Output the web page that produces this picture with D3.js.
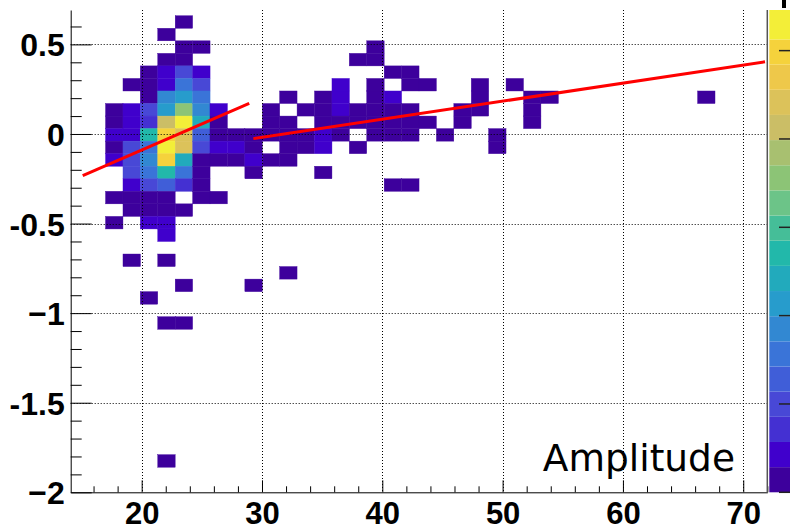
<!DOCTYPE html>
<html><head><meta charset="utf-8">
<script src="https://cdn.jsdelivr.net/npm/d3@7"></script>
<style>html,body{margin:0;padding:0;background:#fff}svg{display:block}</style>
</head><body>
<svg id="chart" width="790" height="530"></svg>
<script>
// ---------- data ----------
const xBinWidth = 1.4475;   // amplitude bin width
const yBinWidth = 0.07;     // y bin width
// one entry per filled bin: bin centre in amplitude, bin centre in y, bin content (z)
const binAmp = [
  23.51,
  22.06,
  23.51, 24.96, 39.43,
  22.06, 23.51, 37.98, 39.43,
  20.61, 22.06, 23.51, 24.96, 40.88, 42.33,
  19.17, 20.61, 22.06, 23.51, 24.96, 36.54, 39.43, 42.33, 43.77, 48.12, 51.01,
  20.61, 22.06, 23.51, 24.96, 32.19, 35.09, 36.54, 39.43, 40.88, 48.12, 52.46, 53.91, 66.93,
  17.72, 19.17, 20.61, 22.06, 23.51, 24.96, 26.40, 30.75, 33.64, 35.09, 36.54, 37.98, 39.43, 40.88, 42.33, 46.67, 48.12, 52.46,
  17.72, 19.17, 20.61, 22.06, 23.51, 24.96, 26.40, 30.75, 32.19, 35.09, 36.54, 37.98, 39.43, 40.88, 42.33, 43.77, 46.67, 52.46,
  17.72, 19.17, 20.61, 22.06, 23.51, 24.96, 26.40, 27.85, 29.30, 30.75, 32.19, 33.64, 35.09, 36.54, 39.43, 40.88, 42.33, 45.22, 49.56,
  17.72, 19.17, 20.61, 22.06, 23.51, 24.96, 26.40, 27.85, 29.30, 32.19, 33.64, 35.09, 37.98, 49.56,
  17.72, 19.17, 20.61, 22.06, 23.51, 24.96, 26.40, 27.85, 29.30, 30.75, 32.19,
  19.17, 20.61, 22.06, 23.51, 24.96, 29.30, 35.09,
  19.17, 20.61, 22.06, 23.51, 24.96, 40.88, 42.33,
  17.72, 19.17, 20.61, 22.06, 24.96, 26.40,
  19.17, 20.61, 22.06, 23.51,
  17.72, 20.61, 22.06,
  22.06,
  19.17, 22.06,
  32.19,
  23.51, 29.30,
  20.61,
  22.06, 23.51,
  22.06
];
const binY = [
  0.625,
  0.555,
  0.485, 0.485, 0.485,
  0.415, 0.415, 0.415, 0.415,
  0.345, 0.345, 0.345, 0.345, 0.345, 0.345,
  0.275, 0.275, 0.275, 0.275, 0.275, 0.275, 0.275, 0.275, 0.275, 0.275, 0.275,
  0.205, 0.205, 0.205, 0.205, 0.205, 0.205, 0.205, 0.205, 0.205, 0.205, 0.205, 0.205, 0.205,
  0.135, 0.135, 0.135, 0.135, 0.135, 0.135, 0.135, 0.135, 0.135, 0.135, 0.135, 0.135, 0.135, 0.135, 0.135, 0.135, 0.135, 0.135,
  0.065, 0.065, 0.065, 0.065, 0.065, 0.065, 0.065, 0.065, 0.065, 0.065, 0.065, 0.065, 0.065, 0.065, 0.065, 0.065, 0.065, 0.065,
  -0.005, -0.005, -0.005, -0.005, -0.005, -0.005, -0.005, -0.005, -0.005, -0.005, -0.005, -0.005, -0.005, -0.005, -0.005, -0.005, -0.005, -0.005, -0.005,
  -0.075, -0.075, -0.075, -0.075, -0.075, -0.075, -0.075, -0.075, -0.075, -0.075, -0.075, -0.075, -0.075, -0.075,
  -0.145, -0.145, -0.145, -0.145, -0.145, -0.145, -0.145, -0.145, -0.145, -0.145, -0.145,
  -0.215, -0.215, -0.215, -0.215, -0.215, -0.215, -0.215,
  -0.285, -0.285, -0.285, -0.285, -0.285, -0.285, -0.285,
  -0.355, -0.355, -0.355, -0.355, -0.355, -0.355,
  -0.425, -0.425, -0.425, -0.425,
  -0.495, -0.495, -0.495,
  -0.565,
  -0.705, -0.705,
  -0.775,
  -0.845, -0.845,
  -0.915,
  -1.055, -1.055,
  -1.825
];
const binZ = [
  0.14,
  0.14,
  0.14, 0.14, 0.14,
  0.14, 0.14, 0.14, 0.14,
  0.14, 0.43, 1.00, 0.43, 0.14, 0.14,
  0.14, 0.14, 0.43, 1.57, 1.00, 0.43, 0.14, 0.14, 0.14, 0.14, 0.14,
  0.14, 1.85, 2.14, 1.57, 0.14, 0.14, 0.43, 0.14, 0.43, 0.14, 0.14, 0.14, 0.14,
  0.14, 0.43, 1.00, 2.14, 3.56, 1.85, 0.43, 0.14, 0.14, 0.14, 0.43, 0.14, 0.14, 0.14, 0.14, 0.14, 0.14, 0.14,
  0.14, 0.43, 0.71, 4.13, 5.30, 2.42, 0.14, 0.14, 0.14, 0.14, 0.14, 0.14, 0.14, 0.14, 0.14, 0.14, 0.14, 0.14,
  0.43, 0.43, 2.71, 4.98, 4.41, 1.28, 0.14, 0.14, 0.14, 0.14, 0.14, 0.14, 0.43, 0.14, 0.14, 0.14, 0.14, 0.14, 0.14,
  0.14, 1.00, 1.57, 5.30, 4.41, 1.00, 0.43, 0.43, 0.14, 0.14, 0.14, 0.43, 0.14, 0.14,
  0.43, 1.00, 1.85, 4.98, 2.42, 0.14, 0.14, 0.14, 0.43, 0.14, 0.14,
  1.00, 1.57, 2.71, 1.57, 0.14, 0.14, 0.14,
  0.43, 1.00, 1.28, 0.71, 0.14, 0.14, 0.14,
  0.14, 0.14, 0.14, 0.14, 0.14, 0.14,
  0.14, 0.14, 0.14, 0.14,
  0.14, 0.43, 0.43,
  0.43,
  0.14, 0.14,
  0.14,
  0.14, 0.14,
  0.14,
  0.14, 0.14,
  0.14
];
// two straight-line fits (end points)
const fit1X = [15.10, 28.94], fit1Y = [-0.233, 0.171];
const fit2X = [29.28, 71.81], fit2Y = [-0.026, 0.403];
// axes
const xTickValues = [20, 30, 40, 50, 60, 70];
const xTickLabels = ["20", "30", "40", "50", "60", "70"];
const yTickValues = [0.5, 0, -0.5, -1, -1.5, -2];
const yTickLabels = ["0.5", "0", "-0.5", "\u22121", "-1.5", "\u22122"];
const zTickValues = [0, 1, 2, 3, 4, 5];
const xTitle = "Amplitude";
// colour palette bands (bottom to top)
const paletteColors = ["#3d009c", "#4000cc", "#4430d2", "#4848d6", "#405ed8", "#3a74d8", "#3288d2",
  "#279ccc", "#22aabc", "#22b8aa", "#45be98", "#6cc488", "#8cc476", "#a8c070", "#cbbe66",
  "#dcc25a", "#eec84a", "#f5d23c", "#f3ee38"];

// ---------- layout ----------
const L = 70.7, R = 767.3, T = 10, B = 492.3;
const svg = d3.select("#chart");
const x = d3.scaleLinear().domain([14.1, 72.0]).range([L, R]);
const y = d3.scaleLinear().domain([-2, 0.692]).range([B, T]);
const zStep = 0.2848;
const z = d3.scaleLinear().domain([0, 5.46]).range([B, T]);
const color = d3.scaleThreshold()
  .domain(d3.range(1, paletteColors.length).map(k => k * zStep))
  .range(paletteColors);

const cells = binAmp.map((a, i) => ({a, v: binY[i], w: binZ[i]}));

// cells
svg.append("g").selectAll("rect").data(cells).join("rect")
  .attr("x", d => x(d.a - xBinWidth / 2))
  .attr("y", d => y(d.v + yBinWidth / 2))
  .attr("width", d => x(d.a + xBinWidth / 2) - x(d.a - xBinWidth / 2))
  .attr("height", d => y(d.v - yBinWidth / 2) - y(d.v + yBinWidth / 2))
  .attr("fill", d => color(d.w))
  .attr("stroke", d => color(d.w)).attr("stroke-width", 0.4);

// grid
const grid = svg.append("g").attr("stroke", "#000").attr("stroke-width", 1).attr("stroke-dasharray", "1,2");
grid.selectAll("line.gx").data(xTickValues).join("line").attr("class", "gx")
  .attr("x1", d => Math.round(x(d)) + 0.5).attr("x2", d => Math.round(x(d)) + 0.5)
  .attr("y1", T).attr("y2", B);
grid.selectAll("line.gy").data(yTickValues.filter(v => v > -2)).join("line").attr("class", "gy")
  .attr("y1", d => Math.round(y(d)) + 0.5).attr("y2", d => Math.round(y(d)) + 0.5)
  .attr("x1", L).attr("x2", R);

// fit lines
const line = d3.line().x(d => x(d[0])).y(d => y(d[1]));
svg.append("path").datum(fit1X.map((v, i) => [v, fit1Y[i]])).attr("d", line)
  .attr("fill", "none").attr("stroke", "#ff0000").attr("stroke-width", 3);
svg.append("path").datum(fit2X.map((v, i) => [v, fit2Y[i]])).attr("d", line)
  .attr("fill", "none").attr("stroke", "#ff0000").attr("stroke-width", 3);

// axes
const font = "'Liberation Sans', Arial, Helvetica, sans-serif";
const gx = svg.append("g").attr("transform", `translate(0,${B})`)
  .call(d3.axisBottom(x).tickValues(xTickValues).tickFormat((d, i) => xTickLabels[i])
    .tickSize(-12).tickSizeOuter(0).tickPadding(9.5));
const xMinor = d3.range(16, 72.01, 2).filter(v => !xTickValues.includes(v));
svg.append("g").attr("transform", `translate(0,${B})`)
  .call(d3.axisBottom(x).tickValues(xMinor).tickFormat("").tickSize(-6).tickSizeOuter(0))
  .call(g => g.select(".domain").remove());
const gy = svg.append("g").attr("transform", `translate(${L},0)`)
  .call(d3.axisLeft(y).tickValues(yTickValues).tickFormat((d, i) => yTickLabels[i])
    .tickSize(-21).tickSizeOuter(0).tickPadding(6));
const yMinor = d3.range(-19, 7).map(k => k / 10).filter(v => !yTickValues.some(t => Math.abs(t - v) < 1e-9));
svg.append("g").attr("transform", `translate(${L},0)`)
  .call(d3.axisLeft(y).tickValues(yMinor).tickFormat("").tickSize(-11).tickSizeOuter(0))
  .call(g => g.select(".domain").remove());
[gx, gy].forEach(g => {
  g.selectAll("text").attr("font-family", font).attr("font-weight", "bold")
    .attr("fill", "#000");
  g.selectAll("line,path").attr("stroke", "#000");
});
gx.selectAll("text").attr("font-size", 31);
gy.selectAll("text").attr("font-size", 32).attr("dy", "0.36em");
svg.selectAll(".tick line").attr("stroke", "#000");

// right frame edge
svg.append("line").attr("x1", R).attr("x2", R).attr("y1", T).attr("y2", B)
  .attr("stroke", "#555").attr("stroke-width", 1.5);

// x title
svg.append("text").attr("x", 735).attr("y", 471).attr("text-anchor", "end")
  .attr("font-family", "'DejaVu Sans', sans-serif").attr("font-size", 37.5).attr("fill", "#000")
  .text(xTitle);

// palette
const pal = svg.append("g");
const bandEdges = paletteColors.map((c, k) => [k * zStep, k === paletteColors.length - 1 ? z.domain()[1] : (k + 1) * zStep]);
pal.selectAll("rect").data(bandEdges).join("rect")
  .attr("x", 769.3).attr("width", 22)
  .attr("y", d => z(d[1])).attr("height", d => z(d[0]) - z(d[1]))
  .attr("fill", (d, k) => paletteColors[k]);
pal.selectAll("line").data(zTickValues).join("line")
  .attr("x1", 779).attr("x2", 790).attr("y1", d => z(d)).attr("y2", d => z(d))
  .attr("stroke", "#222").attr("stroke-width", 1.5);
// clipped palette label fragment at top right
svg.append("rect").attr("x", 782).attr("y", 0).attr("width", 4).attr("height", 8).attr("fill", "#000");
</script>
</body></html>
